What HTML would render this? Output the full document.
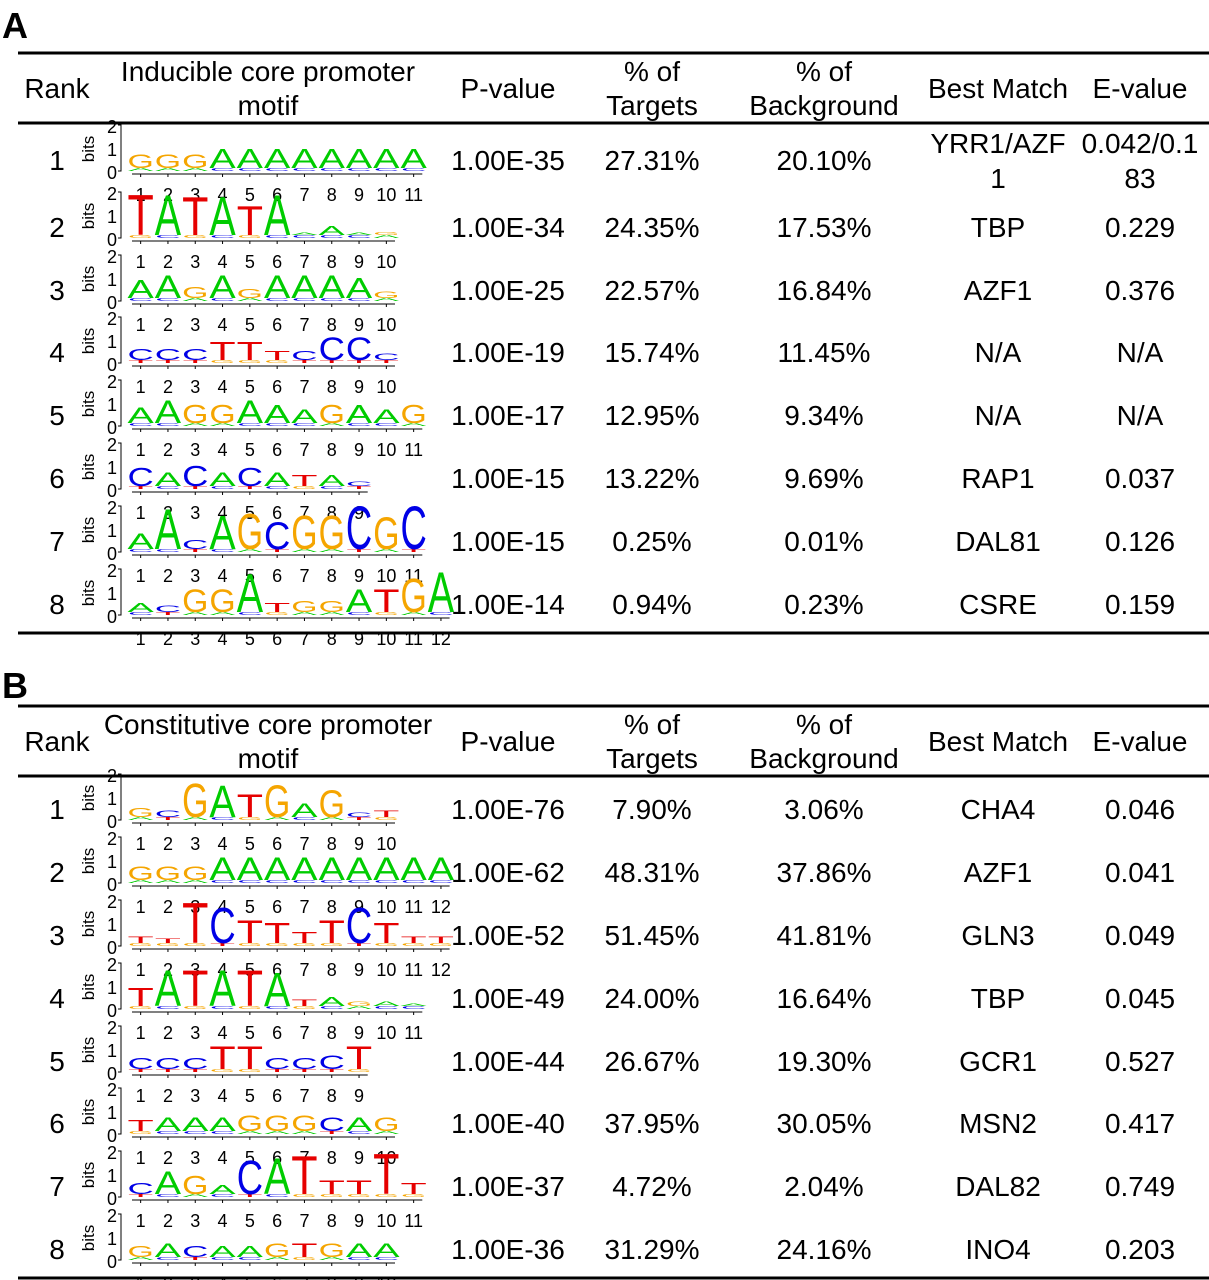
<!DOCTYPE html>
<html><head><meta charset="utf-8"><style>
html,body{margin:0;padding:0;background:#fff}
svg{display:block;font-family:"Liberation Sans",Arial,sans-serif}
</style></head><body>
<svg id="s" width="1209" height="1280" viewBox="0 0 1209 1280" xmlns="http://www.w3.org/2000/svg"></svg>
<script>
const NS='http://www.w3.org/2000/svg';
const svg=document.getElementById('s');
const colors={A:'#00cc00',C:'#0000e6',G:'#f5a500',T:'#e60000'};
const cols=[57,268,508,652,824,998,1140];

const headersA=[["Rank"],["Inducible core promoter","motif"],["P-value"],["% of","Targets"],["% of","Background"],["Best Match"],["E-value"]];
const headersB=[["Rank"],["Constitutive core promoter","motif"],["P-value"],["% of","Targets"],["% of","Background"],["Best Match"],["E-value"]];

const motifsA=["GGGAAAAAAAA","TATATAAAAG","AAGAGAAAAG","CCCTTTCCCC","AAGGAAAGAAG","CACACATAC","AACAGCGGCGC","ACGGATGGATGA"];
const heightsA=[[0.6,0.6,0.6,0.85,0.85,0.85,0.85,0.85,0.85,0.85,0.85],[1.8,1.8,1.7,1.7,1.3,1.8,0.1,0.4,0.1,0.15],[0.8,1.0,0.5,1.0,0.4,1.0,1.0,1.0,0.9,0.3],[0.5,0.5,0.5,0.8,0.8,0.4,0.4,1.0,1.0,0.3],[0.7,1.0,0.8,0.8,1.0,0.8,0.6,0.8,0.8,0.6,0.8],[0.8,0.6,0.9,0.6,0.8,0.6,0.5,0.5,0.2],[0.7,1.8,0.4,1.5,1.6,1.2,1.5,1.5,1.9,1.4,1.9],[0.4,0.3,1.0,1.0,1.7,0.4,0.5,0.5,1.0,1.0,1.5,1.8]];
const pvalA=["1.00E-35","1.00E-34","1.00E-25","1.00E-19","1.00E-17","1.00E-15","1.00E-15","1.00E-14"];
const tgtA=["27.31%","24.35%","22.57%","15.74%","12.95%","13.22%","0.25%","0.94%"];
const bgA=["20.10%","17.53%","16.84%","11.45%","9.34%","9.69%","0.01%","0.23%"];
const matchA=[["YRR1/AZF","1"],["TBP"],["AZF1"],["N/A"],["N/A"],["RAP1"],["DAL81"],["CSRE"]];
const evalA=[["0.042/0.1","83"],["0.229"],["0.376"],["N/A"],["N/A"],["0.037"],["0.126"],["0.159"]];

const motifsB=["GCGATGAGCT","GGGAAAAAAAAA","TTTCTTTTCTTT","TATATATAGAA","CCCTTCCCT","TAAAGGGCAG","CAGACATTTTT","GACAAGTGAA"];
const heightsB=[[0.4,0.3,1.5,1.4,1.0,1.4,0.6,1.2,0.2,0.3],[0.6,0.6,0.6,1.0,1.0,1.0,1.0,1.0,1.0,1.0,1.0,1.0],[0.3,0.2,1.8,1.6,1.0,0.9,0.5,1.0,1.6,0.9,0.3,0.3],[0.8,1.6,1.6,1.6,1.6,1.5,0.3,0.4,0.2,0.2,0.1],[0.5,0.5,0.5,1.0,1.0,0.5,0.5,0.6,1.0],[0.5,0.6,0.6,0.6,0.7,0.7,0.7,0.6,0.6,0.6],[0.5,1.0,0.8,0.4,1.5,1.6,1.7,0.6,0.6,1.8,0.5],[0.5,0.6,0.5,0.5,0.5,0.6,0.6,0.6,0.6,0.6]];
const pvalB=["1.00E-76","1.00E-62","1.00E-52","1.00E-49","1.00E-44","1.00E-40","1.00E-37","1.00E-36"];
const tgtB=["7.90%","48.31%","51.45%","24.00%","26.67%","37.95%","4.72%","31.29%"];
const bgB=["3.06%","37.86%","41.81%","16.64%","19.30%","30.05%","2.04%","24.16%"];
const matchB=[["CHA4"],["AZF1"],["GLN3"],["TBP"],["GCR1"],["MSN2"],["DAL82"],["INO4"]];
const evalB=[["0.046"],["0.041"],["0.049"],["0.045"],["0.527"],["0.417"],["0.749"],["0.203"]];

function el(tag,attrs,parent){const e=document.createElementNS(NS,tag);for(const k in attrs)e.setAttribute(k,attrs[k]);(parent||svg).appendChild(e);return e;}
function txt(x,y,s,size,parent,anchor,weight){const t=el('text',{x:x,y:y,'font-size':size,'text-anchor':anchor||'middle','font-weight':weight||'normal',fill:'#000'},parent);t.textContent=s;return t;}

const BIT=23, CW=27.3, X0=127, FS=28;
function logo(g,cy,motif,hs){
  const base=cy+11;
  el('path',{d:`M${X0-9} ${base-46} h3 v46 h-3`,stroke:'#000','stroke-width':1,fill:'none'},g);
  txt(X0-15,base-38,'2',18,g);
  txt(X0-15,base-15,'1',18,g);
  txt(X0-15,base+8,'0',18,g);
  const bt=txt(0,0,'bits',17,g);bt.setAttribute('transform',`translate(${X0-33},${base-22}) rotate(-90)`);
  el('line',{x1:X0+5,y1:base+3,x2:X0+motif.length*CW-5,y2:base+3,stroke:'#000','stroke-width':1},g);
  const alt={A:'C',C:'T',G:'A',T:'G'};
  for(let i=0;i<motif.length;i++){
    const x=X0+i*CW;
    el('line',{x1:x+CW/2,y1:base+3,x2:x+CW/2,y2:base+6,stroke:'#000','stroke-width':1},g);
    txt(x+CW/2,base+30,String(i+1),18,g);
    const mh=3;
    const m=el('g',{transform:`translate(${x},${base}) scale(1,${mh/7.16})`},g);
    const mt=el('text',{x:1,y:0,'font-size':10,fill:colors[alt[motif[i]]],textLength:CW-2,lengthAdjust:'spacingAndGlyphs'},m);mt.textContent=alt[motif[i]];
    const h=hs[i]*BIT;
    const gg=el('g',{transform:`translate(${x},${base-mh}) scale(1,${h/7.16})`},g);
    
    
    const t=el('text',{x:0.5,y:0,'font-size':10,fill:colors[motif[i]],textLength:CW-1,lengthAdjust:'spacingAndGlyphs'},gg);t.textContent=motif[i];
  }
}

function table(name,label,labelY,top,hdrRule,rowY,bottom,headers,motifs,heights,pv,tg,bg,mt,ev){
  const g=el('g',{});
  
  
  txt(2,labelY,label,36,g,'start','bold');
  el('rect',{x:18,y:top-1.5,width:1191,height:3,fill:'#000'},g);
  el('rect',{x:18,y:hdrRule-1.5,width:1191,height:3,fill:'#000'},g);
  el('rect',{x:18,y:bottom-1.5,width:1191,height:3,fill:'#000'},g);
  headers.forEach((h,i)=>{
    const hg=el('g',{},g);
    
    
    const mid=(top+hdrRule)/2;
    if(h.length===1) txt(cols[i],mid+10,h[0],FS,hg);
    else {txt(cols[i],mid-7,h[0],FS,hg);txt(cols[i],mid+27,h[1],FS,hg);}
  });
  rowY.forEach((cy,r)=>{
    const rg=el('g',{},g);
    
    
    txt(cols[0],cy+10,String(r+1),FS,rg);
    logo(rg,cy,motifs[r],heights[r]);
    txt(cols[2],cy+10,pv[r],FS,rg);
    txt(cols[3],cy+10,tg[r],FS,rg);
    txt(cols[4],cy+10,bg[r],FS,rg);
    [[mt[r],cols[5]],[ev[r],cols[6]]].forEach(([v,x])=>{
      if(v.length===1) txt(x,cy+10,v[0],FS,rg);
      else {txt(x,cy-7,v[0],FS,rg);txt(x,cy+28,v[1],FS,rg);}
    });
  });
}
table('table-inducible','A',38,53,123,[160,227,290,352,415,478,541,604],633,headersA,motifsA,heightsA,pvalA,tgtA,bgA,matchA,evalA);
table('table-constitutive','B',698,706,776,[809,872,935,998,1061,1123,1186,1249],1278,headersB,motifsB,heightsB,pvalB,tgtB,bgB,matchB,evalB);
</script>
</body></html>
